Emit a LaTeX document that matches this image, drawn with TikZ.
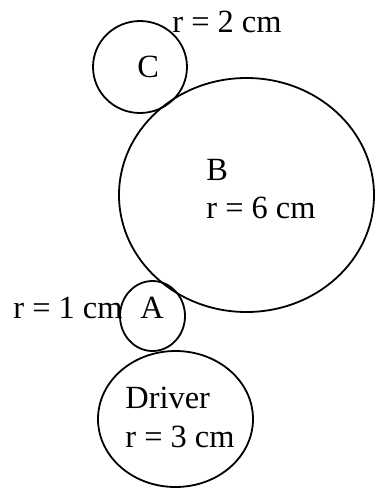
\documentclass[tikz,border=0pt]{standalone}
\usepackage{fontspec}
\setmainfont{Liberation Serif}
\usetikzlibrary{shapes.geometric}
\tikzset{
  wheel/.style={draw=black, ellipse, line width=0.9pt, inner sep=0pt},
  txt/.style={font=\fontsize{16.2}{19}\selectfont, inner sep=0pt, anchor=base west}
}
\begin{document}
\begin{tikzpicture}[x=0.5pt, y=-0.5pt]
  \useasboundingbox (0,0) rectangle (376,488);
  % wheels
  \node[wheel, minimum width=47pt, minimum height=46pt] (C) at (140,67) {};
  \node[wheel, minimum width=127.5pt, minimum height=117pt] (B) at (246.5,195) {};
  \node[wheel, minimum width=32.5pt, minimum height=35pt] (A) at (152.5,316) {};
  \node[wheel, minimum width=77.5pt, minimum height=68pt] (D) at (175.5,419) {};
  % texts
  \node[txt] (Crad) at (172,32) {r = 2 cm};
  \node[txt] (Cname) at (137,77) {C};
  \node[txt] (Bname) at (206,180) {B};
  \node[txt] (Brad) at (206,218) {r = 6 cm};
  \node[txt] (Arad) at (13,318) {r = 1 cm};
  \node[txt] (Aname) at (140,318) {A};
  \node[txt] (Dname) at (125,408) {Driver};
  \node[txt] (Drad) at (125,447) {r = 3 cm};
\end{tikzpicture}
\end{document}
